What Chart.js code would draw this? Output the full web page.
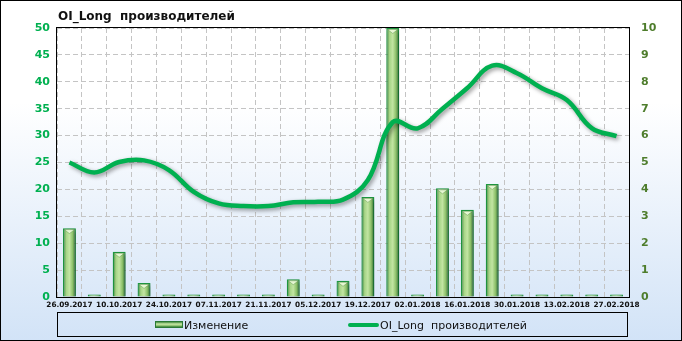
<!DOCTYPE html>
<html>
<head>
<meta charset="utf-8">
<script src="https://cdn.jsdelivr.net/npm/chart.js@4.4.1/dist/chart.umd.min.js"></script>
<style>
  body { margin: 0; }
  #wrap {
    position: relative; width: 682px; height: 341px;
    background: linear-gradient(to bottom, #ffffff 0%, #ffffff 30%, #d2e3f7 100%);
    box-shadow: inset 0 0 0 1px #000;
    font-family: "DejaVu Sans", sans-serif;
  }
  #myChart { position: absolute; left: 0; top: 0; }
  #title {
    position: absolute; left: 58px; top: 9px; line-height: 14px;
    font-size: 12px; font-weight: bold; color: #111; white-space: pre;
  }
  #legend {
    position: absolute; left: 57px; top: 312px; width: 571px; height: 25px;
    box-sizing: border-box; border: 1px solid #000;
  }
  .lg-text { position: absolute; top: 319px; line-height: 13px; font-size: 11px; color: #111; white-space: pre; }
  .lg-bar {
    position: absolute; left: 155px; top: 321px; width: 28px; height: 7px; box-sizing: border-box;
    border: 1px solid #2a7a36;
    background: linear-gradient(to bottom, #3f8a3c 0%, #c8e8a8 40%, #a4d282 65%, #357f36 100%);
  }
  .lg-line { position: absolute; left: 348px; top: 323px; width: 31px; height: 4px; border-radius: 2px; background: #00b050; }
</style>
</head>
<body>
<div id="wrap">
  <canvas id="myChart" width="682" height="341"></canvas>
  <div id="title">OI_Long  производителей</div>
  <div id="legend"></div>
  <div class="lg-bar"></div>
  <div class="lg-text" style="left:184px">Изменение</div>
  <div class="lg-line"></div>
  <div class="lg-text" style="left:380px">OI_Long  производителей</div>
</div>
<script>
// weekly dates, every second one is shown as a tick label
const dates = ['26.09.2017', '03.10.2017', '10.10.2017', '17.10.2017', '24.10.2017', '31.10.2017',
    '07.11.2017', '14.11.2017', '21.11.2017', '28.11.2017', '05.12.2017', '12.12.2017',
    '19.12.2017', '26.12.2017', '02.01.2018', '09.01.2018', '16.01.2018', '23.01.2018',
    '30.01.2018', '06.02.2018', '13.02.2018', '20.02.2018', '27.02.2018'];
const changeValues = [12.8, 0, 8.4, 2.6, 0, 0, 0, 0, 0, 3.3, 0, 3.0,
    18.6, 50, 0, 20.2, 16.2, 21.0, 0, 0, 0, 0, 0];
const oiLongValues = [5.0, 4.63, 5.02, 5.08, 4.72, 3.91, 3.48, 3.38, 3.38, 3.52, 3.54, 3.62,
    4.35, 6.5, 6.27, 7.0, 7.77, 8.6, 8.32, 7.76, 7.32, 6.28, 5.98];
const leftTicks = { min: 0, max: 50, step: 5 };
const rightTicks = { min: 0, max: 10, step: 1 };

// bar fill: dark edges, light middle
const barFill = (c) => {
    const chart = c.chart;
    if (!chart.chartArea || c.dataIndex === undefined) return '#9ccc7c';
    const x = chart.scales.x.getPixelForValue(c.dataIndex);
    const g = chart.ctx.createLinearGradient(x - 6.5, 0, x + 6.5, 0);
    g.addColorStop(0, '#2f7a34');
    g.addColorStop(0.25, '#a6d486');
    g.addColorStop(0.5, '#c2e5a2');
    g.addColorStop(0.75, '#8cc06a');
    g.addColorStop(1, '#25602a');
    return g;
};

const frame = {
    id: 'frame',
    beforeDatasetsDraw(chart) {
        const { ctx, chartArea: a } = chart;
        ctx.save();
        ctx.strokeStyle = '#000';
        ctx.lineWidth = 1;
        ctx.strokeRect(a.left - 0.5, a.top - 0.5, a.right - a.left + 1, a.bottom - a.top + 1);
        ctx.restore();
    }
};

const shadows = {
    id: 'shadows',
    beforeDatasetDraw(chart) {
        const ctx = chart.ctx;
        ctx.save();
        ctx.shadowColor = 'rgba(0,0,0,0.4)';
        ctx.shadowBlur = 4;
        ctx.shadowOffsetX = 2;
        ctx.shadowOffsetY = 2;
    },
    afterDatasetDraw(chart, args) {
        const ctx = chart.ctx;
        ctx.restore();
        if (args.meta.type !== 'bar') return;
        // little bevel on top of each bar
        ctx.save();
        args.meta.data.forEach(el => {
            const p = el.getProps(['x', 'y', 'base', 'width'], true);
            if (p.base - p.y < 6) return;
            const l = p.x - p.width / 2 + 1.5, r = p.x + p.width / 2 - 1.5, t = p.y + 1.5;
            ctx.beginPath();
            ctx.moveTo(l, t);
            ctx.lineTo(r, t);
            ctx.lineTo(p.x, t + (r - l) * 0.4);
            ctx.closePath();
            ctx.fillStyle = '#e6f7d2';
            ctx.fill();
            ctx.strokeStyle = 'rgba(60,120,50,0.5)';
            ctx.lineWidth = 0.7;
            ctx.stroke();
        });
        ctx.restore();
    }
};

const ctx = document.getElementById('myChart');
new Chart(ctx, {
    type: 'bar',
    data: {
        labels: dates,
        datasets: [{
            type: 'line',
            label: 'OI_Long  производителей',
            data: oiLongValues,
            yAxisID: 'y1',
            borderColor: '#00b050',
            borderWidth: 4.5,
            tension: 0.4,
            pointRadius: 0,
            order: 0
        }, {
            type: 'bar',
            label: 'Изменение',
            data: changeValues,
            yAxisID: 'y',
            backgroundColor: barFill,
            borderColor: '#1f9a42',
            borderWidth: 1.3,
            barPercentage: 0.52,
            categoryPercentage: 1,
            minBarLength: 2.5,
            order: 1
        }]
    },
    options: {
        responsive: false,
        animation: false,
        layout: { padding: { top: 28, left: 0, right: 0, bottom: 0 } },
        plugins: { legend: { display: false }, tooltip: { enabled: false } },
        scales: {
            x: {
                afterFit: (s) => { s.height = 44; },
                grid: { color: '#c4c4c4', drawTicks: false, offset: true },
                border: { display: false, dash: [5, 3] },
                ticks: {
                    autoSkip: false, maxRotation: 0, padding: 4, color: '#111',
                    font: { family: 'DejaVu Sans', size: 7.3, weight: 'bold' },
                    callback: (v, i) => (i % 2 === 0 ? dates[i] : '')
                }
            },
            y: {
                position: 'left',
                min: leftTicks.min, max: leftTicks.max,
                afterFit: (s) => { s.width = 57; },
                grid: { color: '#c4c4c4', drawTicks: false },
                border: { display: false, dash: [5, 3] },
                ticks: {
                    stepSize: leftTicks.step, padding: 7, color: '#00b050',
                    font: { family: 'DejaVu Sans', size: 11, weight: 'bold' }
                }
            },
            y1: {
                position: 'right',
                min: rightTicks.min, max: rightTicks.max,
                afterFit: (s) => { s.width = 53; },
                grid: { display: false, drawTicks: false },
                border: { display: false },
                ticks: {
                    stepSize: rightTicks.step, padding: 12, color: '#4e7d2c',
                    font: { family: 'DejaVu Sans', size: 11, weight: 'bold' }
                }
            }
        }
    },
    plugins: [frame, shadows]
});
</script>
</body>
</html>
